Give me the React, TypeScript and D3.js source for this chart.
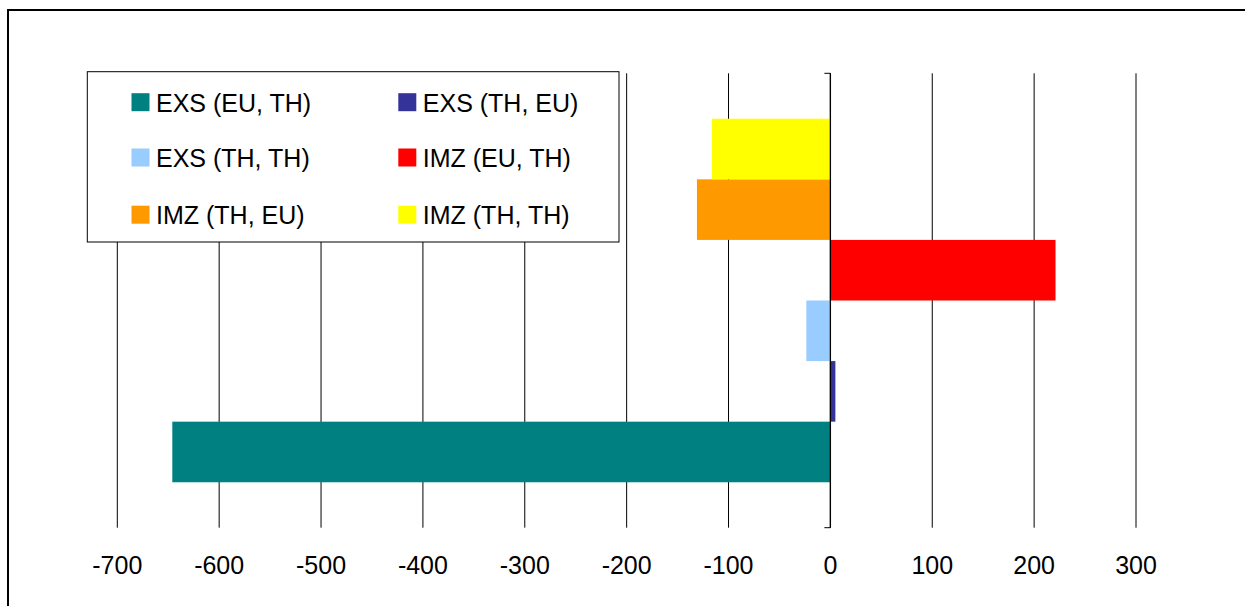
import React from "react";
import * as d3 from "d3";

const seriesNames = [
  "EXS (EU, TH)",
  "EXS (TH, EU)",
  "EXS (TH, TH)",
  "IMZ (EU, TH)",
  "IMZ (TH, EU)",
  "IMZ (TH, TH)",
];
const seriesValues = [-646, 4.9, -23.6, 221, -131, -116.3];
const seriesColors = ["#008080", "#333399", "#99CCFF", "#FF0000", "#FF9900", "#FFFF00"];
const xTicks = [-700, -600, -500, -400, -300, -200, -100, 0, 100, 200, 300];

const W = 1245;
const H = 606;
const FONT = "'Liberation Sans', Arial, sans-serif";

export default function App() {
  const plotTop = 73.3;
  const plotBottom = 527.7;
  const x = d3.scaleLinear().domain([-700, 300]).range([117.3, 1136]);
  const outer = d3
    .scaleBand<string>()
    .domain(["cat"])
    .range([plotTop, plotBottom])
    .paddingInner(0)
    .paddingOuter(0.125);
  const y = d3
    .scaleBand<string>()
    .domain([...seriesNames].reverse())
    .range([outer("cat")!, outer("cat")! + outer.bandwidth()])
    .padding(0);

  const legendX = 87.3;
  const legendY = 71.7;
  const legendW = 619 - 87.3;
  const legendH = 242 - 71.7;
  const colX = [131.5, 398.3];
  const rowBase = [111.5, 166.8, 224];

  return (
    <svg
      width={W}
      height={H}
      style={{ position: "absolute", left: 0, top: 0, display: "block", background: "#fff" }}
    >
      <rect x={8} y={10} width={1300} height={700} fill="#fff" stroke="#000" strokeWidth={2} />
      {xTicks.map((t) => (
        <line
          key={"g" + t}
          x1={x(t)}
          x2={x(t)}
          y1={plotTop}
          y2={plotBottom}
          stroke="#000"
          strokeWidth={1}
        />
      ))}
      {seriesNames.map((s, i) => {
        const v = seriesValues[i];
        const x0 = x(Math.min(0, v));
        const x1 = x(Math.max(0, v));
        return (
          <rect
            key={s}
            x={x0}
            y={y(s)!}
            width={x1 - x0}
            height={y.bandwidth()}
            fill={seriesColors[i]}
          />
        );
      })}
      <line x1={x(0)} x2={x(0)} y1={plotTop} y2={plotBottom} stroke="#000" strokeWidth={1.3} />
      <line x1={x(0) - 6} x2={x(0)} y1={plotTop} y2={plotTop} stroke="#000" strokeWidth={1} />
      <line x1={x(0) - 6} x2={x(0)} y1={plotBottom} y2={plotBottom} stroke="#000" strokeWidth={1} />
      {xTicks.map((t) => (
        <text
          key={"t" + t}
          x={x(t)}
          y={574}
          textAnchor="middle"
          fontFamily={FONT}
          fontSize={25}
          fill="#000"
        >
          {t}
        </text>
      ))}
      <rect
        x={legendX}
        y={legendY}
        width={legendW}
        height={legendH}
        fill="#fff"
        stroke="#000"
        strokeWidth={1}
      />
      {seriesNames.map((s, i) => {
        const col = i % 2;
        const row = Math.floor(i / 2);
        const bx = colX[col];
        const by = rowBase[row];
        return (
          <g key={"l" + s}>
            <rect x={bx} y={by - 18.3} width={18} height={18} fill={seriesColors[i]} />
            <text x={bx + 24.5} y={by} fontFamily={FONT} fontSize={25} fill="#000">
              {s}
            </text>
          </g>
        );
      })}
    </svg>
  );
}
